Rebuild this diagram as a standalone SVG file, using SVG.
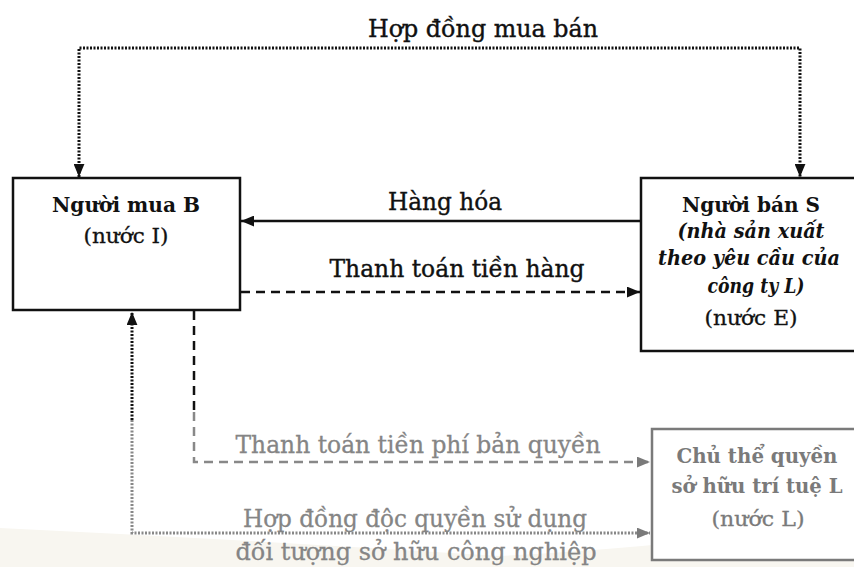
<svg xmlns="http://www.w3.org/2000/svg" width="854" height="567" viewBox="0 0 854 567">
<style>
text{font-family:"DejaVu Serif","Liberation Serif",serif;text-anchor:middle}
.lbl{font-size:25px;fill:#111;stroke:#111;stroke-width:0.4}
.lblg{font-size:25px;fill:#858585;stroke:#858585;stroke-width:0.3}
.bt{font-size:20px;font-weight:bold;fill:#111}
.bti{font-size:20px;font-weight:bold;font-style:italic;fill:#111}
.bn{font-size:20px;fill:#111;stroke:#111;stroke-width:0.3}
.btg{font-size:20px;font-weight:bold;fill:#7a7a7a}
.bng{font-size:20px;fill:#7a7a7a;stroke:#7a7a7a;stroke-width:0.3}
.box{fill:#fff;stroke:#111;stroke-width:2.5}
.boxg{fill:#fff;stroke:#7a7a7a;stroke-width:2.5}
.c{fill:none;stroke-width:2.5}
.dot{stroke-dasharray:2 1.5;stroke-width:3}
.dash{stroke-dasharray:9 6}
</style>
<defs>
<marker id="ak" viewBox="0 0 12 10" refX="12" refY="5" markerWidth="13" markerHeight="11" markerUnits="userSpaceOnUse" orient="auto-start-reverse"><path d="M0,0 L12,5 L0,10 Z" fill="#111"/></marker>
<marker id="ag" viewBox="0 0 12 10" refX="12" refY="5" markerWidth="13" markerHeight="11" markerUnits="userSpaceOnUse" orient="auto-start-reverse"><path d="M0,0 L12,5 L0,10 Z" fill="#7a7a7a"/></marker>
</defs>
<rect width="854" height="567" fill="#fff"/>
<path d="M0,528 Q250,540 500,556 Q700,545 854,520 L854,567 L0,567 Z" fill="#f8f6f0"/>

<g id="connectors">
<path id="c-contract" class="c dot" stroke="#111" d="M79,177 V48 H800 V177" marker-start="url(#ak)" marker-end="url(#ak)"/>
<line id="c-goods" class="c" stroke="#111" x1="641" y1="221" x2="241" y2="221" marker-end="url(#ak)"/>
<line id="c-pay" class="c dash" stroke="#111" x1="241" y1="292" x2="640" y2="292" marker-end="url(#ak)"/>
<g id="c-royalty">
<line class="c dash" stroke="#111" x1="194" y1="311" x2="194" y2="412"/>
<path class="c dash" stroke="#888" d="M194,412 V462 H650" marker-end="url(#ag)"/>
</g>
<g id="c-license">
<line class="c dot" stroke="#111" x1="132" y1="420" x2="132" y2="312" marker-end="url(#ak)"/>
<path class="c dot" stroke="#888" d="M132,420 V533 H650" marker-end="url(#ag)"/>
</g>
<text class="lbl" x="483" y="37" textLength="230" lengthAdjust="spacingAndGlyphs">Hợp đồng mua bán</text>
<text class="lbl" x="445" y="210" textLength="114" lengthAdjust="spacingAndGlyphs">Hàng hóa</text>
<text class="lbl" x="457" y="277" textLength="255" lengthAdjust="spacingAndGlyphs">Thanh toán tiền hàng</text>
<text class="lblg" x="418" y="453" textLength="365" lengthAdjust="spacingAndGlyphs">Thanh toán tiền phí bản quyền</text>
<text class="lblg" x="415" y="527" textLength="344" lengthAdjust="spacingAndGlyphs">Hợp đồng độc quyền sử dụng</text>
<text class="lblg" x="416" y="560" textLength="361" lengthAdjust="spacingAndGlyphs">đối tượng sở hữu công nghiệp</text>
</g>

<g id="buyer">
<rect class="box" x="13" y="178" width="227" height="132"/>
<text class="bt" x="126" y="212" textLength="148" lengthAdjust="spacingAndGlyphs">Người mua B</text>
<text class="bn" x="126" y="243" textLength="85" lengthAdjust="spacingAndGlyphs">(nước I)</text>
</g>

<g id="seller">
<rect class="box" x="641" y="178" width="220" height="173"/>
<text class="bt" x="751" y="212" textLength="138" lengthAdjust="spacingAndGlyphs">Người bán S</text>
<text class="bti" x="751" y="238" textLength="147" lengthAdjust="spacingAndGlyphs">(nhà sản xuất</text>
<text class="bti" x="749" y="265" textLength="182" lengthAdjust="spacingAndGlyphs">theo yêu cầu của</text>
<text class="bti" x="756" y="293" textLength="97" lengthAdjust="spacingAndGlyphs">công ty L)</text>
<text class="bn" x="751" y="325" textLength="93" lengthAdjust="spacingAndGlyphs">(nước E)</text>
</g>

<g id="owner">
<rect class="boxg" x="652" y="429" width="210" height="131"/>
<text class="btg" x="757" y="463" textLength="161" lengthAdjust="spacingAndGlyphs">Chủ thể quyền</text>
<text class="btg" x="757" y="493" textLength="171" lengthAdjust="spacingAndGlyphs">sở hữu trí tuệ L</text>
<text class="bng" x="758" y="526" textLength="93" lengthAdjust="spacingAndGlyphs">(nước L)</text>
</g>
</svg>
